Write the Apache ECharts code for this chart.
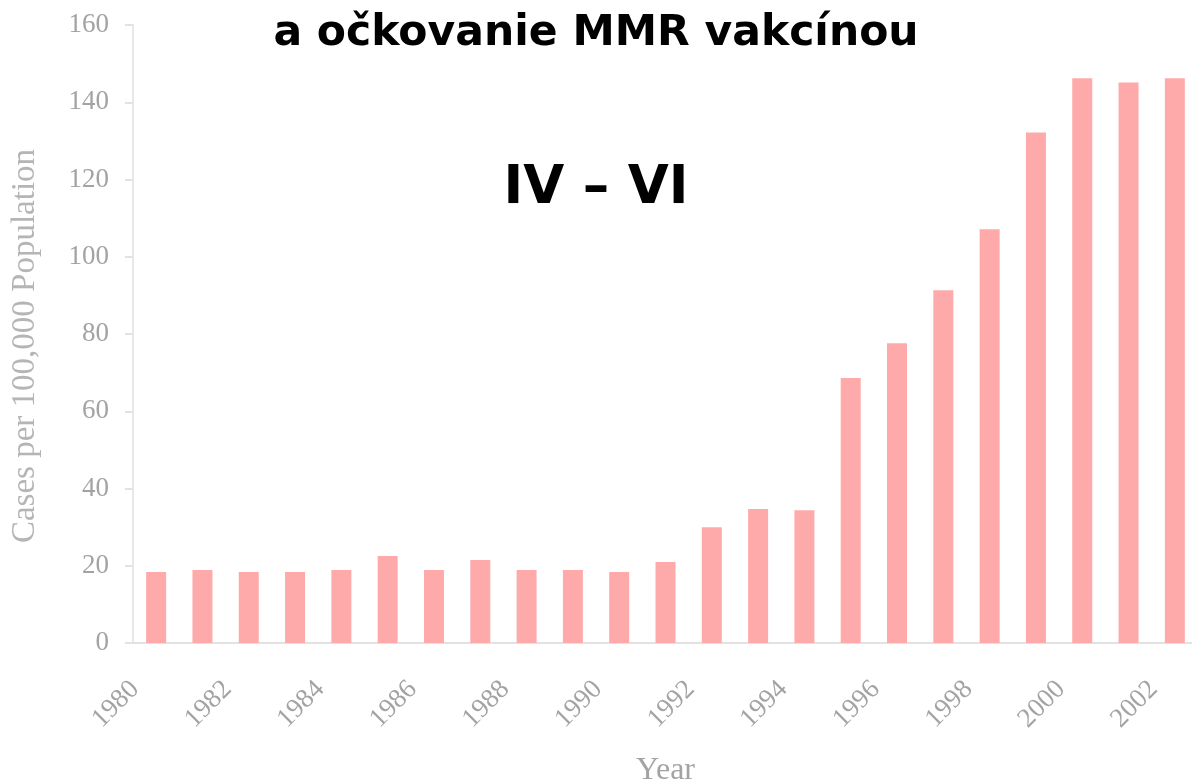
<!DOCTYPE html>
<html lang="sk">
<head>
    <meta charset="UTF-8">
    <title>a očkovanie MMR vakcínou</title>
    <script src="https://cdn.jsdelivr.net/npm/echarts@6/dist/echarts.min.js"></script>
    <style>
        html, body { margin: 0; padding: 0; background: #fff; }
    </style>
</head>
<body>
    <div id="chart" style="width: 1192px; height: 783px;"></div>

    <script>
        // roky a hodnoty (pripady na 100 000 obyvatelov)
        var roky = ['1980', '1981', '1982', '1983', '1984', '1985', '1986', '1987',
                    '1988', '1989', '1990', '1991', '1992', '1993', '1994', '1995',
                    '1996', '1997', '1998', '1999', '2000', '2001', '2002'];
        var pripady = [18.4, 18.9, 18.4, 18.4, 18.9, 22.5, 18.9, 21.5,
                       18.9, 18.9, 18.4, 21, 30, 34.7, 34.4, 68.6,
                       77.6, 91.3, 107.1, 132.2, 146.2, 145.1, 146.2];
        var nadpis = 'a očkovanie MMR vakcínou';
        var podnadpis = 'IV – VI';

        var chart = echarts.init(document.getElementById('chart'));
        var sivaFarba = '#a3a3a3';

        chart.setOption({
            animation: false,
            title: [
                {
                    text: nadpis,
                    left: 'center',
                    top: 12,
                    padding: [0, 0, 0, 8],
                    textStyle: { fontFamily: 'DejaVu Sans', fontWeight: 'bold', fontSize: 42.5, color: '#000' }
                },
                {
                    text: podnadpis,
                    left: 'center',
                    top: 163,
                    padding: [0, 0, 0, 6],
                    textStyle: { fontFamily: 'DejaVu Sans', fontWeight: 'bold', fontSize: 53, color: '#000' }
                }
            ],
            grid: { left: 133, right: -6, top: 25, bottom: 140, outerBoundsMode: 'none', containLabel: false },
            xAxis: {
                type: 'category',
                data: roky,
                name: 'Year',
                nameLocation: 'middle',
                nameGap: 112,
                nameTextStyle: { fontFamily: 'Liberation Serif', fontSize: 32, color: sivaFarba },
                axisLine: { lineStyle: { color: '#e2e2e2', width: 2 } },
                axisTick: { interval: 0, length: 6, lineStyle: { color: '#e2e2e2', width: 2 } },
                axisLabel: {
                    interval: 1,
                    rotate: 45,
                    margin: 21,
                    padding: [0, 30, 0, 0],
                    fontFamily: 'Liberation Serif',
                    fontSize: 27,
                    color: sivaFarba
                }
            },
            yAxis: {
                type: 'value',
                min: 0,
                max: 160,
                interval: 20,
                name: 'Cases per 100,000 Population',
                nameLocation: 'middle',
                nameGap: 91,
                nameTextStyle: { fontFamily: 'Liberation Serif', fontSize: 33, color: '#b5b5b5', padding: [0, 24, 0, 0] },
                splitLine: { show: false },
                axisLine: { show: true, lineStyle: { color: '#e8e8e8', width: 2 } },
                axisTick: { show: true, length: 8, lineStyle: { color: '#e2e2e2', width: 2 } },
                axisLabel: {
                    margin: 24,
                    fontFamily: 'Liberation Serif',
                    fontSize: 27,
                    color: sivaFarba
                }
            },
            series: [{
                type: 'bar',
                data: pripady,
                barWidth: 20,
                itemStyle: { color: '#ffaaaa' }
            }]
        });
    </script>
</body>
</html>
